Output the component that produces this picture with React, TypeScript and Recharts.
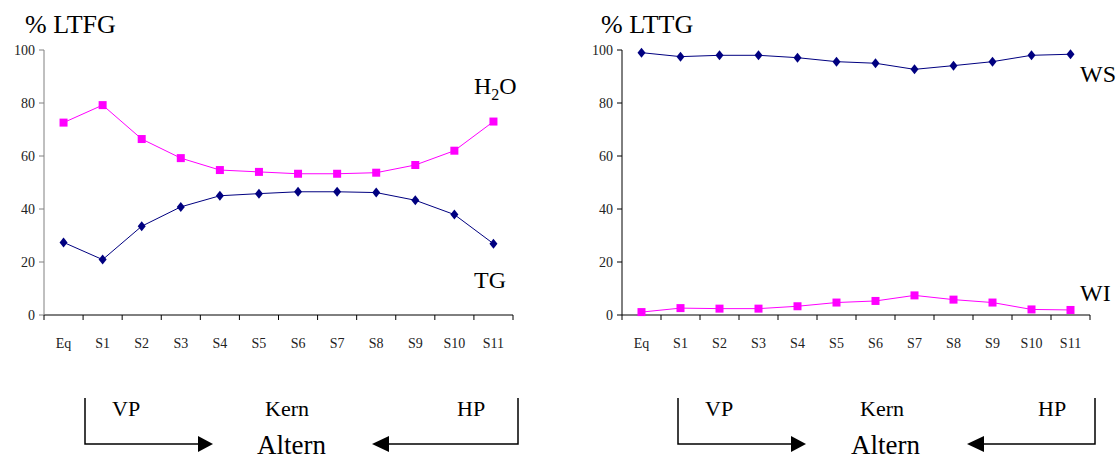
import { Line, LineChart, XAxis, YAxis } from "recharts";

const categories = ["Eq", "S1", "S2", "S3", "S4", "S5", "S6", "S7", "S8", "S9", "S10", "S11"];
const yTicks = [0, 20, 40, 60, 80, 100];

// left panel: % LTFG
const h2oValues = [72.6, 79.2, 66.4, 59.2, 54.7, 54.0, 53.3, 53.3, 53.7, 56.6, 62.0, 73.0];
const tgValues = [27.4, 20.9, 33.5, 40.8, 45.0, 45.8, 46.5, 46.5, 46.2, 43.3, 37.9, 26.9];

// right panel: % LTTG
const wsValues = [99.0, 97.5, 98.0, 98.0, 97.1, 95.6, 95.0, 92.7, 94.1, 95.6, 98.0, 98.4];
const wiValues = [1.1, 2.6, 2.4, 2.4, 3.3, 4.7, 5.3, 7.4, 5.8, 4.7, 2.1, 1.9];

const FONT = '"Liberation Serif", "DejaVu Serif", serif';
const MAGENTA = "#ff00ff";
const NAVY = "#000080";

const leftData = categories.map((c, i) => ({ cat: c, h2o: h2oValues[i], tg: tgValues[i] }));
const rightData = categories.map((c, i) => ({ cat: c, ws: wsValues[i], wi: wiValues[i] }));

const serif = { fontFamily: FONT };

const SquareDot = (props: any) => {
  const { cx, cy } = props;
  if (cx == null || cy == null) return null;
  return <rect x={cx - 4} y={cy - 4} width={8} height={8} fill={MAGENTA} />;
};

const DiamondDot = (props: any) => {
  const { cx, cy } = props;
  if (cx == null || cy == null) return null;
  return (
    <polygon
      points={`${cx},${cy - 5} ${cx + 4},${cy} ${cx},${cy + 5} ${cx - 4},${cy}`}
      fill={NAVY}
    />
  );
};

const YTick = (props: any) => {
  const { x, y, payload } = props;
  return (
    <text x={x} y={y} dy={5} textAnchor="end" fontSize={14} style={serif} fill="#222">
      {payload.value}
    </text>
  );
};

// Excel-style category ticks: marks on the band edges, labels in the middle
const CatTick = (props: any) => {
  const { x, y, payload, index, half, count } = props;
  const axisY = y - 19;
  return (
    <g>
      <line x1={x - half} y1={axisY} x2={x - half} y2={axisY + 5} stroke="#000" />
      {index === count - 1 && (
        <line x1={x + half} y1={axisY} x2={x + half} y2={axisY + 5} stroke="#000" />
      )}
      <text x={x} y={y} dy={14} textAnchor="middle" fontSize={14} style={serif} fill="#222">
        {payload.value}
      </text>
    </g>
  );
};

type PanelProps = {
  data: any[];
  width: number;
  yWidth: number;
  right: number;
  yColor: string;
  squareKey: string;
  diamondKey: string;
};

function Panel({ data, width, yWidth, right, yColor, squareKey, diamondKey }: PanelProps) {
  const plotW = width - yWidth - right;
  const half = plotW / categories.length / 2;
  return (
    <LineChart width={width} height={370} data={data} margin={{ top: 50, right, bottom: 0, left: 0 }}>
      <XAxis
        dataKey="cat"
        interval={0}
        padding={{ left: half, right: half }}
        height={55}
        tickSize={5}
        tickMargin={14}
        tickLine={false}
        axisLine={{ stroke: "#000" }}
        tick={<CatTick half={half} count={categories.length} />}
      />
      <YAxis
        width={yWidth}
        domain={[0, 100]}
        ticks={yTicks}
        interval={0}
        tickSize={5}
        tickMargin={4}
        axisLine={{ stroke: yColor }}
        tickLine={{ stroke: yColor }}
        tick={<YTick />}
      />
      <Line
        dataKey={squareKey}
        stroke={MAGENTA}
        strokeWidth={1}
        dot={<SquareDot />}
        isAnimationActive={false}
      />
      <Line
        dataKey={diamondKey}
        stroke={NAVY}
        strokeWidth={1}
        dot={<DiamondDot />}
        isAnimationActive={false}
      />
    </LineChart>
  );
}

function Flow({ left, right, tipL, tipR, vp, kern, hp, altern }: any) {
  return (
    <g>
      <path d={`M${left} 398 V444 H${tipL - 15}`} fill="none" stroke="#000" strokeWidth={1.5} />
      <polygon points={`${tipL - 15},436 ${tipL},444 ${tipL - 15},452`} fill="#000" />
      <path d={`M${right} 398 V444 H${tipR + 17}`} fill="none" stroke="#000" strokeWidth={1.5} />
      <polygon points={`${tipR + 17},436 ${tipR},444 ${tipR + 17},452`} fill="#000" />
      <text x={vp} y={416} fontSize={22} style={serif}>VP</text>
      <text x={kern} y={416} fontSize={22} style={serif}>Kern</text>
      <text x={hp} y={416} fontSize={22} style={serif}>HP</text>
      <text x={altern} y={454} fontSize={27} style={serif}>Altern</text>
    </g>
  );
}

export default function App() {
  return (
    <div style={{ position: "absolute", left: 0, top: 0, width: 1118, height: 460, background: "#fff" }}>
      <div style={{ position: "absolute", left: 0, top: 0 }}>
        <Panel data={leftData} width={560} yWidth={44} right={47} yColor="#808080" squareKey="h2o" diamondKey="tg" />
      </div>
      <div style={{ position: "absolute", left: 560, top: 0 }}>
        <Panel data={rightData} width={558} yWidth={62} right={28} yColor="#000" squareKey="wi" diamondKey="ws" />
      </div>
      <svg width={1118} height={460} style={{ position: "absolute", left: 0, top: 0, pointerEvents: "none" }}>
        <g fill="#000">
          <text x={25} y={33} fontSize={26} style={serif}>% LTFG</text>
          <text x={601} y={33} fontSize={26} style={serif}>% LTTG</text>
          <text x={474} y={94} fontSize={24} style={serif}>
            H<tspan fontSize={16} dy={6}>2</tspan><tspan dy={-6}>O</tspan>
          </text>
          <text x={474} y={288} fontSize={24} style={serif}>TG</text>
          <text x={1080} y={82} fontSize={24} style={serif}>WS</text>
          <text x={1080} y={301} fontSize={24} style={serif}>WI</text>
        </g>
        <Flow left={85} right={518} tipL={213} tipR={372} vp={112} kern={265} hp={457} altern={257} />
        <Flow left={678} right={1095} tipL={806} tipR={967} vp={705} kern={860} hp={1038} altern={851} />
      </svg>
    </div>
  );
}
